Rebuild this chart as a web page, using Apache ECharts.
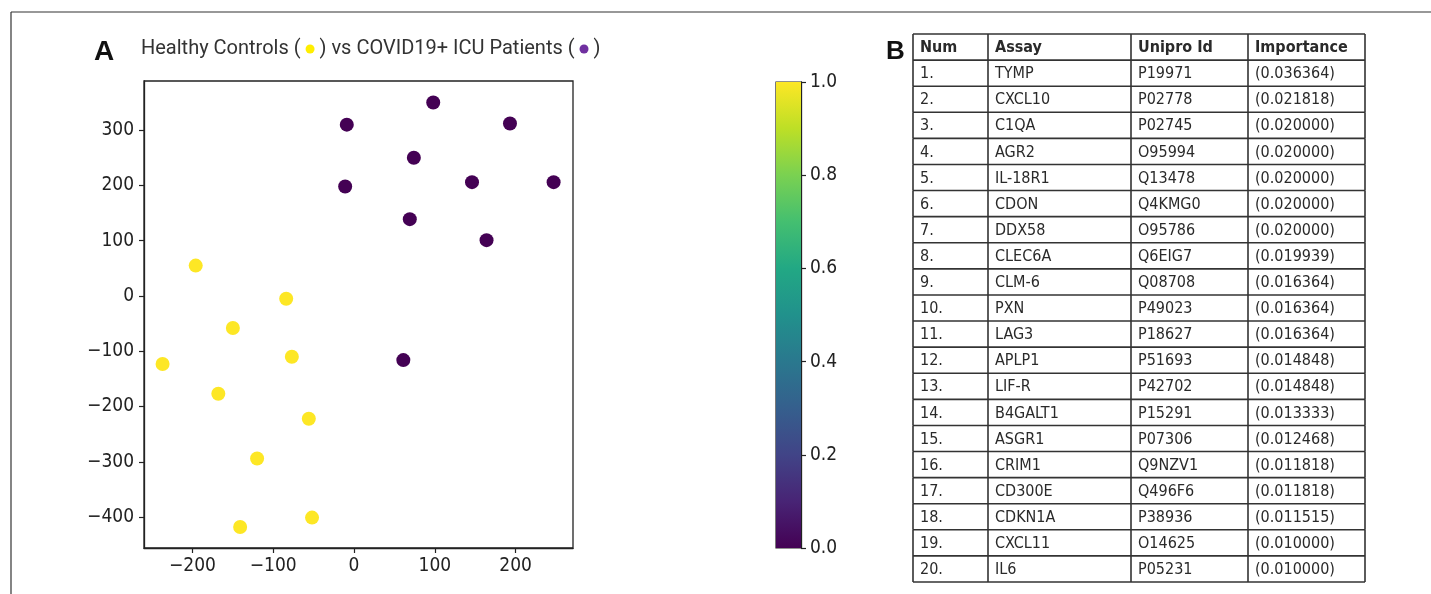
<!DOCTYPE html>
<html>
<head>
<meta charset="utf-8">
<script src="https://cdn.jsdelivr.net/npm/echarts@6/dist/echarts.min.js"></script>
<style>
  html, body { margin: 0; padding: 0; background: #fff; }
  #main { width: 1431px; height: 594px; }
</style>
</head>
<body>
<div id="main"></div>
<script>
// panel A: t-SNE style scatter, [x, y]  (healthy = class 1, ICU = class 0)
var healthy = [
  [-196, 55], [-84, -5], [-150, -58], [-237, -123], [-77, -110],
  [-168, -177], [-56, -222], [-120, -294], [-141, -418], [-52, -401]
];
var icu = [
  [-9, 310], [-11, 198], [98, 350], [74, 250], [69, 139],
  [193, 312], [146, 206], [247, 206], [164, 101], [61, -116]
];
var xTicks = [-200, -100, 0, 100, 200];
var yTicks = [-400, -300, -200, -100, 0, 100, 200, 300];
var viridis = ["#440154", "#482475", "#414487", "#355f8d", "#2a788e", "#21918c",
               "#22a884", "#44bf70", "#7ad151", "#bddf26", "#fde725"];

// panel B: feature importance table
var tableHeader = ["Num", "Assay", "Unipro Id", "Importance"];
var nums = ["1.", "2.", "3.", "4.", "5.", "6.", "7.", "8.", "9.", "10.",
            "11.", "12.", "13.", "14.", "15.", "16.", "17.", "18.", "19.", "20."];
var assays = ["TYMP", "CXCL10", "C1QA", "AGR2", "IL-18R1", "CDON", "DDX58", "CLEC6A", "CLM-6", "PXN",
              "LAG3", "APLP1", "LIF-R", "B4GALT1", "ASGR1", "CRIM1", "CD300E", "CDKN1A", "CXCL11", "IL6"];
var uniprotIds = ["P19971", "P02778", "P02745", "O95994", "Q13478", "Q4KMG0", "O95786", "Q6EIG7", "Q08708", "P49023",
                  "P18627", "P51693", "P42702", "P15291", "P07306", "Q9NZV1", "Q496F6", "P38936", "O14625", "P05231"];
var importance = [0.036364, 0.021818, 0.020000, 0.020000, 0.020000, 0.020000, 0.020000, 0.019939, 0.016364, 0.016364,
                  0.016364, 0.014848, 0.014848, 0.013333, 0.012468, 0.011818, 0.011818, 0.011515, 0.010000, 0.010000];

var colW = [75, 143, 117, 117]; // table column widths (px)
var tickFont = "DejaVu Sans Condensed";
var tableFont = "DejaVu Sans Condensed";

var myChart = echarts.init(document.getElementById("main"));

function minus(v) {
  return String(v).replace("-", "\u2212");
}

var scatterData = healthy.map(function (p) { return [p[0], p[1], 1]; })
  .concat(icu.map(function (p) { return [p[0], p[1], 0]; }));

var rows = [{ cells: tableHeader, head: true }];
for (var i = 0; i < nums.length; i++) {
  rows.push({ cells: [nums[i], assays[i], uniprotIds[i], "(" + importance[i].toFixed(6) + ")"], head: false });
}
var tableData = rows.map(function (r, idx) { return [0, idx]; });

function renderRow(params, api) {
  var idx = api.value(1);
  var cy = api.coord([0, idx])[1];
  var h = api.size([0, 1])[1];
  var cs = params.coordSys;
  var top = cy - h / 2;
  var bottom = cy + h / 2;
  var lineStyle = { stroke: "#333", lineWidth: 1.6 };
  var children = [];
  if (idx === 0) {
    children.push({ type: "line", shape: { x1: cs.x, y1: top, x2: cs.x + cs.width, y2: top }, style: lineStyle });
  }
  children.push({ type: "line", shape: { x1: cs.x, y1: bottom, x2: cs.x + cs.width, y2: bottom }, style: lineStyle });
  var x = cs.x;
  children.push({ type: "line", shape: { x1: x, y1: top, x2: x, y2: bottom }, style: lineStyle });
  var row = rows[idx];
  for (var c = 0; c < colW.length; c++) {
    children.push({
      type: "text",
      style: {
        text: row.cells[c],
        x: x + 7,
        y: cy + 1,
        verticalAlign: "middle",
        fill: "#2a2a2a",
        font: (row.head ? "bold " : "") + "16px '" + tableFont + "'"
      }
    });
    x += colW[c];
    children.push({ type: "line", shape: { x1: x, y1: top, x2: x, y2: bottom }, style: lineStyle });
  }
  return { type: "group", children: children };
}

var axisLine = { show: true, onZero: false, lineStyle: { color: "#222", width: 1.3 } };
var axisTick = { show: true, inside: false, length: 5, lineStyle: { color: "#222", width: 1.2 } };
var tickLabel = { color: "#222", fontFamily: tickFont, fontSize: 19 };

var option = {
  backgroundColor: "#fff",
  animation: false,
  title: [
    { text: "A", left: 89, top: 33, textStyle: { fontFamily: "Liberation Sans", fontWeight: "bold", fontSize: 28, color: "#111" } },
    {
      text: "{t|Healthy Controls ( }{y| }{t| ) vs COVID19+ ICU Patients ( }{p| }{t| )}",
      left: 136, top: 34,
      textStyle: {
        fontWeight: "normal",
        rich: {
          t: { fontFamily: "Roboto", fontWeight: "normal", fontSize: 20, color: "#333" },
          y: { width: 9, height: 9, borderRadius: 4.5, backgroundColor: "#ffee00", fontSize: 1, padding: [0, 0, 0, 0] },
          p: { width: 9, height: 9, borderRadius: 4.5, backgroundColor: "#7030a0", fontSize: 1, padding: [0, 0, 0, 0] }
        }
      }
    },
    { text: "B", left: 881, top: 34, textStyle: { fontFamily: "Liberation Sans", fontWeight: "bold", fontSize: 26, color: "#111" } }
  ],
  graphic: [
    { type: "line", shape: { x1: 11, y1: 12, x2: 1431, y2: 12 }, style: { stroke: "#333", lineWidth: 1.2 } },
    { type: "line", shape: { x1: 11, y1: 12, x2: 11, y2: 594 }, style: { stroke: "#333", lineWidth: 1.2 } }
  ],
  visualMap: {
    show: false,
    type: "continuous",
    seriesIndex: 0,
    dimension: 2,
    min: 0,
    max: 1,
    inRange: { color: viridis }
  },
  grid: [
    { left: 144, top: 81, width: 429, height: 467, show: true, borderColor: "#222", borderWidth: 1.3, backgroundColor: "#fff" },
    { left: 776, top: 82, width: 25, height: 466, show: true, borderColor: "#222", borderWidth: 1.2 },
    { left: 913, top: 34, width: 452, height: 548 }
  ],
  xAxis: [
    {
      gridIndex: 0, type: "value", min: -260, max: 271,
      axisLine: axisLine,
      axisTick: Object.assign({ customValues: xTicks }, axisTick),
      axisLabel: Object.assign({ customValues: xTicks, margin: 9, formatter: minus }, tickLabel),
      splitLine: { show: false }
    },
    { gridIndex: 1, type: "category", data: ["c"], show: false },
    { gridIndex: 2, type: "value", min: 0, max: 1, show: false }
  ],
  yAxis: [
    {
      gridIndex: 0, type: "value", min: -456, max: 389,
      axisLine: axisLine,
      axisTick: Object.assign({ customValues: yTicks }, axisTick),
      axisLabel: Object.assign({ customValues: yTicks, margin: 10, formatter: minus }, tickLabel),
      splitLine: { show: false }
    },
    {
      gridIndex: 1, type: "value", min: 0, max: 1, interval: 0.2, position: "right",
      axisLine: axisLine,
      axisTick: axisTick,
      axisLabel: Object.assign({ margin: 9, formatter: function (v) { return v.toFixed(1); } }, tickLabel),
      splitLine: { show: false }
    },
    {
      gridIndex: 2, type: "category", inverse: true, show: false,
      data: rows.map(function (r, idx) { return String(idx); })
    }
  ],
  series: [
    {
      type: "scatter",
      xAxisIndex: 0, yAxisIndex: 0,
      symbolSize: 14,
      itemStyle: { opacity: 1 },
      data: scatterData
    },
    {
      type: "bar",
      xAxisIndex: 1, yAxisIndex: 1,
      barWidth: "100%",
      data: [1],
      itemStyle: {
        color: new echarts.graphic.LinearGradient(0, 0, 0, 1,
          viridis.slice().reverse().map(function (c, k) { return { offset: k / (viridis.length - 1), color: c }; }))
      }
    },
    {
      type: "custom",
      xAxisIndex: 2, yAxisIndex: 2,
      renderItem: renderRow,
      data: tableData
    }
  ]
};

myChart.setOption(option);
window.addEventListener("resize", function () {
  myChart.resize();
});
</script>
</body>
</html>
